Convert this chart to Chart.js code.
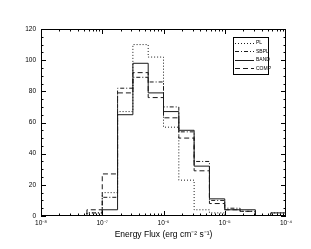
<!DOCTYPE html>
<html>
<head>
<meta charset="utf-8">
<script src="https://cdn.jsdelivr.net/npm/chart.js@4.4.1/dist/chart.umd.min.js"></script>
<style>
  html, body { margin: 0; padding: 0; background: #fff; }
  #wrap { width: 311px; height: 249px; }
</style>
</head>
<body>
<div id="wrap"><canvas id="c" width="311" height="249"></canvas></div>
<script>
// bin edges, log10 of energy flux
const binExp = [-8, -7.75, -7.5, -7.25, -7, -6.75, -6.5, -6.25, -6, -5.75, -5.5, -5.25, -5, -4.75, -4.5, -4.25, -4];

// counts per bin (16 bins)
const plCounts   = [0, 0, 0, 2, 15, 67, 110, 102, 57, 23, 4, 2, 0, 0, 0, 2];
const sbplCounts = [0, 0, 0, 2, 12, 82, 89, 86, 70, 54, 35, 10, 5, 3, 0, 0];
const bandCounts = [0, 0, 0, 0, 4, 65, 98, 79, 67, 55, 32, 11, 4, 4, 0, 2];
const compCounts = [0, 0, 0, 4, 27, 79, 92, 76, 63, 50, 29, 8, 4, 3, 0, 0];

const seriesNames = ['PL', 'SBPL', 'BAND', 'COMP'];
const yTicks = [0, 20, 40, 60, 80, 100, 120];
const xDecades = [-8, -7, -6, -5, -4];

const sup = { '-': '\u207B', '0': '\u2070', '1': '\u00B9', '2': '\u00B2', '3': '\u00B3', '4': '\u2074',
              '5': '\u2075', '6': '\u2076', '7': '\u2077', '8': '\u2078', '9': '\u2079' };
const toSup = s => String(s).split('').map(ch => sup[ch] || ch).join('');

// step outline points (each count held until the next edge)
function stepPoints(counts) {
    const pts = [{ x: Math.pow(10, binExp[0]), y: 0 }];
    counts.forEach((c, i) => pts.push({ x: Math.pow(10, binExp[i]), y: c }));
    const last = Math.pow(10, binExp[binExp.length - 1]);
    pts.push({ x: last, y: counts[counts.length - 1] });
    pts.push({ x: last, y: 0 });
    return pts;
}

const styles = [
    { dash: [1, 2] },
    { dash: [4, 2, 1, 2] },
    { dash: [] },
    { dash: [5, 3] },
];

const datasets = [plCounts, sbplCounts, bandCounts, compCounts].map((counts, i) => ({
    label: seriesNames[i],
    data: stepPoints(counts),
    stepped: 'before',
    borderColor: '#1a1a1a',
    borderWidth: 1,
    borderDash: styles[i].dash,
    pointRadius: 0,
    fill: false,
}));

const FONT = '"Liberation Sans", Arial, sans-serif';

// frame, inward ticks, legend
const framePlugin = {
    id: 'frame',
    afterDatasetsDraw(chart) {
        const { ctx, chartArea: a, scales } = chart;
        const xs = scales.x, ys = scales.y;
        ctx.save();
        ctx.strokeStyle = '#000';
        ctx.lineWidth = 1;
        ctx.setLineDash([]);
        ctx.strokeRect(a.left + 0.5, a.top + 0.5, a.right - a.left - 1, a.bottom - a.top - 1);

        ctx.beginPath();
        for (let d = -8; d < -4; d++) {
            for (let m = 1; m <= 9; m++) {
                const px = Math.round(xs.getPixelForValue(m * Math.pow(10, d))) + 0.5;
                const len = m === 1 ? 5 : 2.5;
                ctx.moveTo(px, a.bottom); ctx.lineTo(px, a.bottom - len);
                ctx.moveTo(px, a.top); ctx.lineTo(px, a.top + len);
            }
        }
        for (let v = 0; v <= 120; v += 5) {
            const py = Math.round(ys.getPixelForValue(v)) + 0.5;
            const len = v % 20 === 0 ? 5 : 2.5;
            ctx.moveTo(a.left, py); ctx.lineTo(a.left + len, py);
            ctx.moveTo(a.right, py); ctx.lineTo(a.right - len, py);
        }
        ctx.stroke();

        // legend
        const lx = 233, ly = 37, lw = 35, lh = 37;
        ctx.fillStyle = '#fff';
        ctx.fillRect(lx, ly, lw, lh);
        ctx.strokeRect(lx + 0.5, ly + 0.5, lw, lh);
        ctx.font = '5px ' + FONT;
        ctx.textBaseline = 'middle';
        ctx.fillStyle = '#000';
        chart.data.datasets.forEach((ds, i) => {
            const y = ly + 6 + i * 8.4;
            ctx.setLineDash(ds.borderDash);
            ctx.strokeStyle = '#1a1a1a';
            ctx.beginPath();
            ctx.moveTo(lx + 2, Math.round(y) + 0.5);
            ctx.lineTo(lx + 21, Math.round(y) + 0.5);
            ctx.stroke();
            ctx.fillText(ds.label, lx + 23, y);
        });
        ctx.restore();
    }
};

new Chart(document.getElementById('c').getContext('2d'), {
    type: 'line',
    data: { datasets },
    options: {
        responsive: false,
        animation: false,
        layout: { padding: { top: 29, right: 25, left: 0, bottom: 9 } },
        plugins: { legend: { display: false }, tooltip: { enabled: false } },
        scales: {
            x: {
                type: 'logarithmic',
                min: 1e-8,
                max: 1e-4,
                grid: { display: false, drawTicks: false },
                border: { display: false },
                afterBuildTicks: s => { s.ticks = xDecades.map(d => ({ value: Math.pow(10, d) })); },
                ticks: {
                    color: '#000',
                    font: { family: FONT, size: 6.5 },
                    padding: 3,
                    maxRotation: 0,
                    autoSkip: false,
                    callback: v => '10' + toSup(Math.round(Math.log10(v))),
                },
                title: {
                    display: true,
                    text: 'Energy Flux (erg cm' + toSup(-2) + ' s' + toSup(-1) + ')',
                    color: '#000',
                    font: { family: FONT, size: 8.5 },
                    padding: { top: 1, bottom: 0 },
                },
                afterFit: s => { s.height = 24; },
            },
            y: {
                min: 0,
                max: 120,
                grid: { display: false, drawTicks: false },
                border: { display: false },
                afterBuildTicks: s => { s.ticks = yTicks.map(v => ({ value: v })); },
                ticks: {
                    color: '#000',
                    font: { family: FONT, size: 6.5 },
                    padding: 5,
                },
                afterFit: s => { s.width = 41; },
            },
        },
    },
    plugins: [framePlugin],
});
</script>
</body>
</html>
